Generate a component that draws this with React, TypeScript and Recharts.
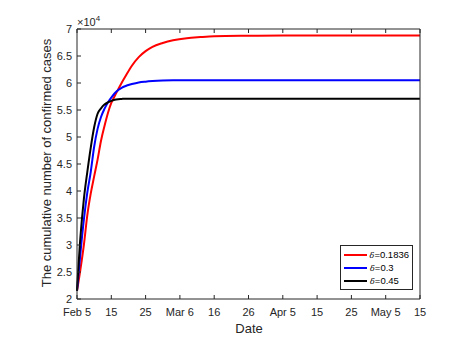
import React from "react";
import { LineChart, Line, XAxis, YAxis, Legend } from "recharts";

// days since Feb 5
const days = [0, 1, 2, 3, 4, 5, 6, 7, 8, 9, 10, 11, 12, 13, 14, 16, 18, 20, 22, 25, 28, 32, 36, 40, 50, 60, 70, 80, 90, 100];

const red = [21500, 25500, 30000, 35500, 39500, 42700, 45800, 49300, 52000, 54400, 56300, 57600, 58800, 60000, 61100, 63200, 64800, 65900, 66700, 67400, 67900, 68300, 68500, 68650, 68750, 68800, 68800, 68800, 68800, 68800];
const blue = [21500, 28500, 34700, 39700, 43500, 48200, 51500, 53700, 55200, 56400, 57300, 58100, 58700, 59100, 59400, 59800, 60100, 60250, 60350, 60450, 60500, 60500, 60500, 60500, 60500, 60500, 60500, 60500, 60500, 60500];
const black = [21500, 31500, 38500, 43500, 48000, 51800, 54300, 55300, 56000, 56400, 56700, 56900, 57000, 57050, 57100, 57100, 57100, 57100, 57100, 57100, 57100, 57100, 57100, 57100, 57100, 57100, 57100, 57100, 57100, 57100];

const seriesNames = ["0.1836", "0.3", "0.45"];
const seriesColors = ["#ff0000", "#0000ff", "#000000"];

const xTicks = [0, 10, 20, 30, 40, 50, 60, 70, 80, 90, 100];
const xLabels = ["Feb 5", "15", "25", "Mar 6", "16", "26", "Apr 5", "15", "25", "May 5", "15"];
const yTicks = [20000, 25000, 30000, 35000, 40000, 45000, 50000, 55000, 60000, 65000, 70000];
const yLabels = ["2", "2.5", "3", "3.5", "4", "4.5", "5", "5.5", "6", "6.5", "7"];

const data = days.map((d, i) => ({ day: d, s0: red[i], s1: blue[i], s2: black[i] }));

const FONT = '"Liberation Sans", Arial, sans-serif';
const AXIS = "#262626";

const BottomTick = (props: any) => {
  const { x, y, payload } = props;
  const i = xTicks.indexOf(payload.value);
  return (
    <g>
      <line x1={x} y1={y} x2={x} y2={y - 4} stroke={AXIS} />
      <text x={x} y={y + 17} textAnchor="middle" fontSize={11} fill={AXIS} fontFamily={FONT}>
        {xLabels[i]}
      </text>
    </g>
  );
};

const TopTick = (props: any) => {
  const { x, y } = props;
  return <line x1={x} y1={y} x2={x} y2={y + 4} stroke={AXIS} />;
};

const LeftTick = (props: any) => {
  const { x, y, payload } = props;
  const i = yTicks.indexOf(payload.value);
  return (
    <g>
      <line x1={x} y1={y} x2={x + 4} y2={y} stroke={AXIS} />
      <text x={x - 5} y={y + 4} textAnchor="end" fontSize={11} fill={AXIS} fontFamily={FONT}>
        {yLabels[i]}
      </text>
    </g>
  );
};

const RightTick = (props: any) => {
  const { x, y } = props;
  return <line x1={x} y1={y} x2={x - 4} y2={y} stroke={AXIS} />;
};

const renderLegend = () => (
  <div
    style={{
      border: `1px solid ${AXIS}`,
      background: "#fff",
      padding: "2px 3px",
      fontFamily: FONT,
      fontSize: 9.5,
      color: "#000",
      boxSizing: "border-box",
      width: 73,
    }}
  >
    {seriesNames.map((n, i) => (
      <div key={n} style={{ display: "flex", alignItems: "center", height: 13 }}>
        <span style={{ display: "inline-block", width: 23, height: 2, background: seriesColors[i], marginRight: 3 }} />
        <span>
          <i style={{ fontFamily: "'DejaVu Serif', serif", fontSize: 8 }}>δ</i>={n}
        </span>
      </div>
    ))}
  </div>
);

export default function App() {
  return (
    <div style={{ position: "absolute", left: 0, top: 0, width: 471, height: 340, background: "#fff" }}>
      <LineChart width={471} height={340} data={data} margin={{ top: 28, right: 50, bottom: 0, left: 0 }}>
        <XAxis
          dataKey="day"
          type="number"
          domain={[0, 100]}
          ticks={xTicks}
          tickSize={0}
          tickMargin={0}
          height={41}
          stroke={AXIS}
          tick={BottomTick}
          interval={0}
          label={{
            content: () => (
              <text x={249} y={333} textAnchor="middle" fontSize={13} fill={AXIS} fontFamily={FONT}>
                Date
              </text>
            ),
          }}
        />
        <XAxis
          xAxisId="t"
          orientation="top"
          dataKey="day"
          type="number"
          domain={[0, 100]}
          ticks={xTicks}
          tickSize={0}
          tickMargin={0}
          height={1}
          stroke={AXIS}
          tick={TopTick}
          interval={0}
        />
        <YAxis
          type="number"
          domain={[20000, 70000]}
          ticks={yTicks}
          tickSize={0}
          tickMargin={0}
          width={77}
          stroke={AXIS}
          tick={LeftTick}
          interval={0}
          label={{
            content: () => (
              <g>
                <text
                  x={46}
                  y={163}
                  transform="rotate(-90 46 163)"
                  textAnchor="middle"
                  dominantBaseline="central"
                  fontSize={13}
                  fill={AXIS}
                  fontFamily={FONT}
                >
                  The cumulative number of confirmed cases
                </text>
                <text x={77} y={26} fontSize={11} fill={AXIS} fontFamily={FONT}>
                  ×10
                  <tspan fontSize={8} dy={-5}>4</tspan>
                </text>
              </g>
            ),
          }}
        />
        <YAxis
          yAxisId="r"
          orientation="right"
          type="number"
          domain={[20000, 70000]}
          ticks={yTicks}
          tickSize={0}
          tickMargin={0}
          width={1}
          stroke={AXIS}
          tick={RightTick}
          interval={0}
        />
        <Legend
          layout="vertical"
          align="center"
          verticalAlign="middle"
          content={renderLegend}
          wrapperStyle={{ left: 340, top: 245, width: 73 }}
        />
        {seriesNames.map((n, i) => (
          <Line
            key={n}
            dataKey={`s${i}`}
            name={n}
            type="monotone"
            stroke={seriesColors[i]}
            strokeWidth={2}
            dot={false}
            isAnimationActive={false}
          />
        ))}
      </LineChart>
    </div>
  );
}
